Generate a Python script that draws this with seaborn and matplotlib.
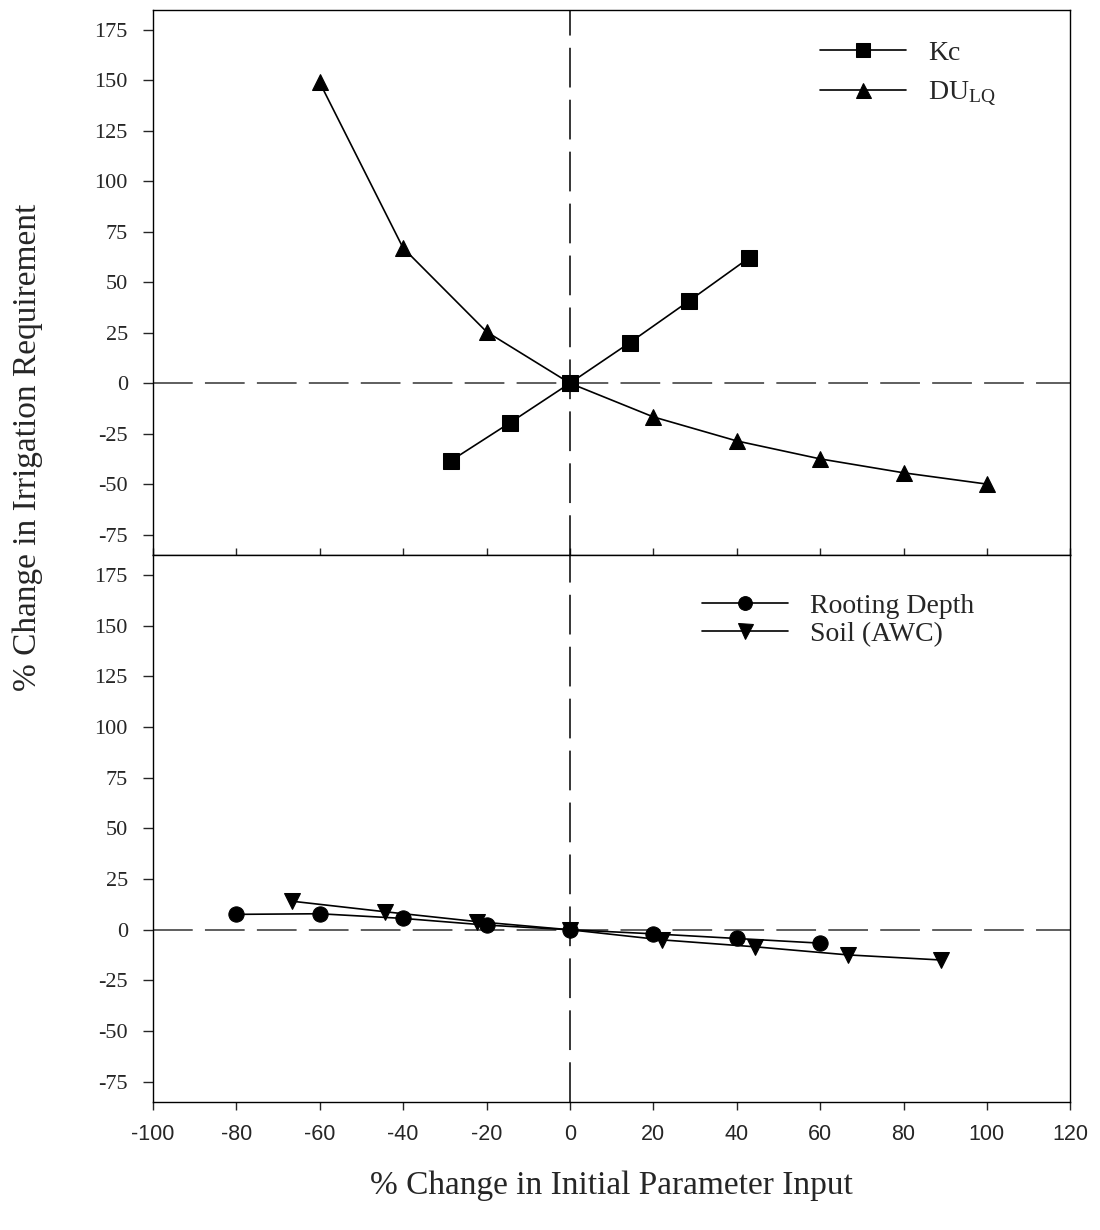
import matplotlib
matplotlib.use("Agg")
import matplotlib.pyplot as plt
import seaborn as sns

# -------------------------
# Data
# -------------------------
kc_x = [-28.6, -14.3, 0, 14.3, 28.6, 42.9]
kc_y = [-38.5, -19.5, 0, 20.0, 40.8, 62.0]

du_x = [-60, -40, -20, 0, 20, 40, 60, 80, 100]
du_y = [149.0, 67.0, 25.5, 0, -16.7, -28.6, -37.5, -44.4, -50.0]

root_x = [-80, -60, -40, -20, 0, 20, 40, 60]
root_y = [7.6, 7.9, 5.6, 2.3, 0, -2.0, -4.3, -6.6]

soil_x = [-66.7, -44.4, -22.2, 0, 22.2, 44.4, 66.7, 88.9]
soil_y = [14.1, 8.9, 4.0, 0, -5.0, -8.4, -12.4, -14.9]

x_ticks = [-100, -80, -60, -40, -20, 0, 20, 40, 60, 80, 100, 120]
y_ticks = [-75, -50, -25, 0, 25, 50, 75, 100, 125, 150, 175]

sns.set_theme(style="ticks")
plt.rcParams["font.family"] = ["Liberation Serif", "DejaVu Serif"]
plt.rcParams["mathtext.fontset"] = "stix"

fig = plt.figure(figsize=(11, 12.3), dpi=100)
ax_top = fig.add_axes([0.139, 0.549, 0.834, 0.443])
ax_bot = fig.add_axes([0.139, 0.104, 0.834, 0.445])

line_kw = dict(color="black", linewidth=1.2, markeredgecolor="black",
               sort=False, estimator=None)


def style_axes(ax, show_xlabels):
    ax.set_xlim(-100, 120)
    ax.set_ylim(-85, 185)
    ax.set_xticks(x_ticks)
    ax.set_yticks(y_ticks)
    ax.set_yticklabels([str(v) for v in y_ticks], fontsize=16,
                       family="Liberation Serif")
    for s in ax.spines.values():
        s.set_visible(True)
        s.set_linewidth(1.0)
        s.set_color("black")
    ax.tick_params(axis="y", direction="out", length=7, width=1.0, pad=11)
    if show_xlabels:
        ax.tick_params(axis="x", direction="out", length=6, width=1.0, pad=10)
        ax.set_xticklabels([str(v) for v in x_ticks], fontsize=15.5,
                           family="Liberation Sans")
    else:
        ax.tick_params(axis="x", direction="in", length=5, width=1.0,
                       labelbottom=False)
    ax.axvline(0, color="black", linewidth=1.1, dashes=(26, 8), zorder=1)
    ax.axhline(0, color="#333333", linewidth=1.1, dashes=(26, 8), zorder=1)
    ax.set_xlabel("")
    ax.set_ylabel("")


# -------------------------
# Top panel: Kc and DU_LQ
# -------------------------
sns.lineplot(x=kc_x, y=kc_y, marker="s", markersize=11, label="Kc",
             ax=ax_top, **line_kw)
sns.lineplot(x=du_x, y=du_y, marker="^", markersize=12,
             label="DU$_\\mathregular{LQ}$", ax=ax_top, **line_kw)
style_axes(ax_top, False)
ax_top.legend(loc="upper left", bbox_to_anchor=(0.7, 0.99), frameon=False,
              fontsize=20, handlelength=3.1, markerscale=0.9,
              labelspacing=0.5, handletextpad=0.8)

# -------------------------
# Bottom panel: Rooting depth and soil AWC
# -------------------------
sns.lineplot(x=root_x, y=root_y, marker="o", markersize=11,
             label="Rooting Depth", ax=ax_bot, **line_kw)
sns.lineplot(x=soil_x, y=soil_y, marker="v", markersize=12,
             label="Soil (AWC)", ax=ax_bot, **line_kw)
style_axes(ax_bot, True)
ax_bot.legend(loc="upper left", bbox_to_anchor=(0.571, 0.975), frameon=False,
              fontsize=20, handlelength=3.1, markerscale=0.9,
              labelspacing=0.1, handletextpad=0.8)

ax_bot.set_xlabel("% Change in Initial Parameter Input", fontsize=24,
                  labelpad=18)
fig.text(0.025, 0.636, "% Change in Irrigation Requirement", rotation=90,
         ha="center", va="center", fontsize=24)

fig.savefig("out.png", dpi=100)
plt.close(fig)
